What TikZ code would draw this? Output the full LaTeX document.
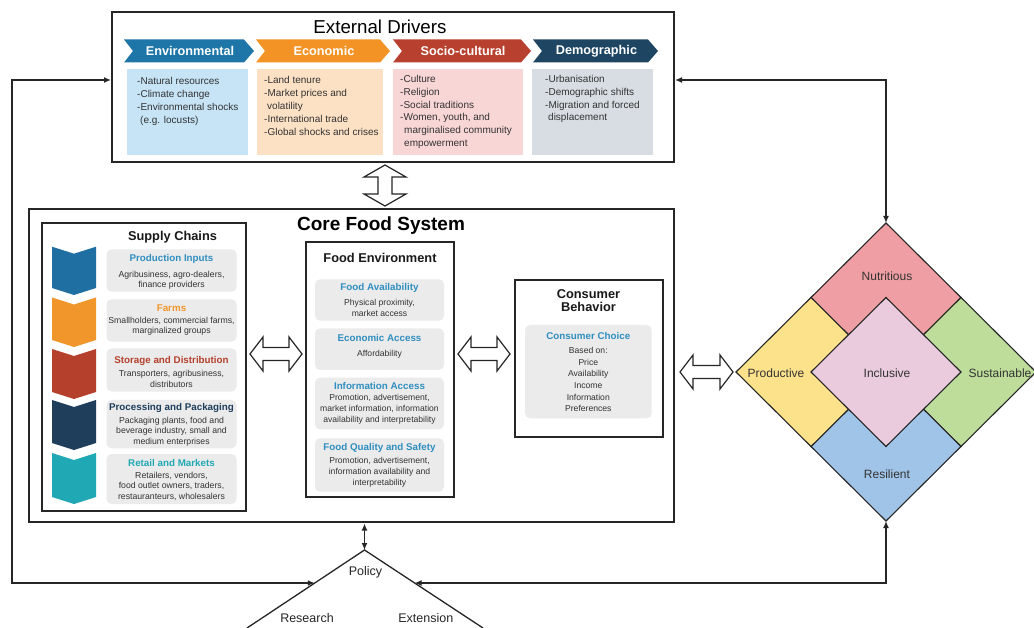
\documentclass[tikz,border=0pt]{standalone}
\usepackage{fontspec}
\setmainfont{Liberation Sans}
\usetikzlibrary{arrows.meta}
\definecolor{envH}{HTML}{1E76A8}
\definecolor{ecoH}{HTML}{F39325}
\definecolor{socH}{HTML}{B8402E}
\definecolor{demH}{HTML}{1E4662}
\definecolor{envB}{HTML}{C6E4F6}
\definecolor{ecoB}{HTML}{FDE1C5}
\definecolor{socB}{HTML}{F9D6D6}
\definecolor{demB}{HTML}{D7DDE3}
\definecolor{itemgrey}{HTML}{EBEBEB}
\definecolor{hdrblue}{HTML}{2F8EC0}
\definecolor{chBlue}{HTML}{1F6FA3}
\definecolor{chOrange}{HTML}{F0962A}
\definecolor{chRed}{HTML}{B5402C}
\definecolor{chNavy}{HTML}{1E3E5C}
\definecolor{chTeal}{HTML}{20A8B4}
\definecolor{txt}{HTML}{333333}
\definecolor{dNut}{HTML}{EF9FA3}
\definecolor{dPro}{HTML}{FDE28C}
\definecolor{dSus}{HTML}{BEDD9A}
\definecolor{dRes}{HTML}{A0C4E8}
\definecolor{dInc}{HTML}{E9CBDD}
\newcommand\extchev[5]{%
  \fill[#3] (#1,39.5) -- (#2-10,39.5) -- (#2,51) -- (#2-10,62.5) -- (#1,62.5) -- (#1+9,51) -- cycle;
  \node[hdr] (#4) at ({(#1+#2)/2+1},51) {#5};}
\newcommand\scchev[3]{%
  \fill[#3] (52,#1) -- (74,#1+7) -- (96,#1) -- (96,#2-7) -- (74,#2) -- (52,#2-7) -- cycle;}
\newcommand\hollowH[3]{%
  \draw[hollow] (#1,#3) -- (#1+13,#3-17) -- (#1+13,#3-6.5) -- (#2-13,#3-6.5) -- (#2-13,#3-17) -- (#2,#3)
    -- (#2-13,#3+17) -- (#2-13,#3+6.5) -- (#1+13,#3+6.5) -- (#1+13,#3+17) -- cycle;}
\begin{document}
\begin{tikzpicture}[x=1pt,y=-1pt,
  >={Latex[length=7pt,width=6pt]},
  panel/.style={draw=black!85, line width=1.3pt, fill=white, anchor=north west, inner sep=0pt, outer sep=0pt},
  cbox/.style={anchor=north west, inner sep=0pt, outer sep=0pt},
  item/.style={fill=itemgrey, rounded corners=5pt, anchor=north west, inner sep=0pt, outer sep=0pt},
  drvtxt/.style={font=\fontsize{10}{12.9}\selectfont, align=left, anchor=north west, inner sep=0pt, text=txt},
  hdr/.style={font=\fontsize{12.7}{14}\selectfont\bfseries, text=white, inner sep=0pt},
  ptitle/.style={font=\fontsize{12.8}{13.3}\selectfont\bfseries, inner sep=0pt, align=center, text=black!90},
  ihead/.style={font=\fontsize{9.8}{11}\selectfont\bfseries, inner sep=0pt, anchor=base},
  ibody/.style={font=\fontsize{8.7}{10.6}\selectfont, inner sep=0pt, anchor=north, align=center, text=txt},
  fbody/.style={font=\fontsize{8.6}{11.2}\selectfont, inner sep=0pt, anchor=north, align=center, text=txt},
  hollow/.style={draw=black!85, line width=1.2pt, fill=white, line join=miter},
  conn/.style={draw=black!85, line width=1.4pt, <->},
  dia/.style={draw=black!85, line width=1.1pt, line join=miter},
  dlabel/.style={font=\fontsize{12}{14}\selectfont, text=black!80, inner sep=0pt},
  plabel/.style={font=\fontsize{12.5}{14}\selectfont, text=black!85, inner sep=0pt}]
\useasboundingbox[fill=white] (0,0) rectangle (1034,628);

% ---------- External drivers ----------
\node[panel, line width=1.5pt, minimum width=562pt, minimum height=150pt] (ext) at (112,12) {};
\node[font=\fontsize{18.7}{20}\selectfont, inner sep=0pt] (extT) at (380,27) {External Drivers};
\extchev{124}{254}{envH}{envHd}{Environmental}
\extchev{256}{390}{ecoH}{ecoHd}{Economic}
\extchev{393}{531}{socH}{socHd}{Socio-cultural}
\extchev{533}{658}{demH}{demHd}{Demographic}
\node[cbox, fill=envB, minimum width=121pt, minimum height=86pt] (envBx) at (127,69.3) {};
\node[cbox, fill=ecoB, minimum width=126pt, minimum height=86pt] (ecoBx) at (257,69.3) {};
\node[cbox, fill=socB, minimum width=130pt, minimum height=86pt] (socBx) at (393.3,69.3) {};
\node[cbox, fill=demB, minimum width=120.5pt, minimum height=86pt] (demBx) at (532.3,69.3) {};
\node[drvtxt] (envTx) at (137,77.2) {-Natural resources\\-Climate change\\-Environmental shocks\\\hspace*{3pt}(e.g. locusts)};
\node[drvtxt] (ecoTx) at (264,76.5) {-Land tenure\\-Market prices and\\\hspace*{3pt}volatility\\-International trade\\-Global shocks and crises};
\node[drvtxt] (socTx) at (400,74.8) {-Culture\\-Religion\\-Social traditions\\-Women, youth, and\\\hspace*{4pt}marginalised community\\\hspace*{4pt}empowerment};
\node[drvtxt] (demTx) at (545,74.8) {-Urbanisation\\-Demographic shifts\\-Migration and forced\\\hspace*{3pt}displacement};

% vertical hollow double arrow
\draw[hollow] (385,165) -- (406,177) -- (392,177) -- (392,194) -- (406,194) -- (385,206)
  -- (364,194) -- (378,194) -- (378,177) -- (364,177) -- cycle;

% ---------- Core food system ----------
\node[panel, minimum width=645pt, minimum height=313pt] (core) at (29,209) {};
\node[font=\fontsize{19}{21}\selectfont\bfseries, inner sep=0pt] (coreT) at (381,226) {Core Food System};

% Supply chains
\node[panel, minimum width=204pt, minimum height=288pt] (sc) at (42,223) {};
\node[ptitle] (scT) at (172.5,237.5) {Supply Chains};
\scchev{246.7}{295}{chBlue}
\scchev{297.5}{347}{chOrange}
\scchev{349}{399}{chRed}
\scchev{400}{450}{chNavy}
\scchev{453}{504}{chTeal}
\node[item, minimum width=130pt, minimum height=42.4pt] (sc1) at (106.5,249.3) {};
\node[item, minimum width=130pt, minimum height=42.4pt] (sc2) at (106.5,299.3) {};
\node[item, minimum width=130pt, minimum height=43.2pt] (sc3) at (106.5,348.5) {};
\node[item, minimum width=130pt, minimum height=48.3pt] (sc4) at (106.5,400) {};
\node[item, minimum width=130pt, minimum height=50pt] (sc5) at (106.5,454) {};
\node[ihead, text=hdrblue] (sc1h) at (171.5,261.8) {Production Inputs};
\node[ibody] (sc1b) at (171.5,270.8) {Agribusiness, agro-dealers,\\finance providers};
\node[ihead, text=chOrange] (sc2h) at (171.5,311.8) {Farms};
\node[ibody] (sc2b) at (171.5,316.8) {Smallholders, commercial farms,\\marginalized groups};
\node[ihead, text=chRed] (sc3h) at (171.5,363.5) {Storage and Distribution};
\node[ibody] (sc3b) at (171.5,370.1) {Transporters, agribusiness,\\distributors};
\node[ihead, text=chNavy] (sc4h) at (171.5,410.8) {Processing and Packaging};
\node[ibody] (sc4b) at (171.5,416.8) {Packaging plants, food and\\beverage industry, small and\\medium enterprises};
\node[ihead, text=chTeal] (sc5h) at (171.5,466.2) {Retail and Markets};
\node[ibody] (sc5b) at (171.5,471.8) {Retailers, vendors,\\food outlet owners, traders,\\restauranteurs, wholesalers};

% Food environment
\node[panel, minimum width=148pt, minimum height=255pt] (fe) at (306,242) {};
\node[ptitle] (feT) at (380,258) {Food Environment};
\node[item, minimum width=129pt, minimum height=41.4pt] (fe1) at (315,279.3) {};
\node[item, minimum width=129pt, minimum height=41.7pt] (fe2) at (315,328.3) {};
\node[item, minimum width=129pt, minimum height=51.6pt] (fe3) at (315,377.7) {};
\node[item, minimum width=129pt, minimum height=53.4pt] (fe4) at (315,438.3) {};
\node[ihead, text=hdrblue] (fe1h) at (379.5,290.8) {Food Availability};
\node[fbody] (fe1b) at (379.5,298.7) {Physical proximity,\\market access};
\node[ihead, text=hdrblue] (fe2h) at (379.5,341.2) {Economic Access};
\node[fbody] (fe2b) at (379.5,350.3) {Affordability};
\node[ihead, text=hdrblue] (fe3h) at (379.5,389.2) {Information Access};
\node[fbody] (fe3b) at (379.5,393.7) {Promotion, advertisement,\\market information, information\\availability and interpretability};
\node[ihead, text=hdrblue] (fe4h) at (379.5,450.8) {Food Quality and Safety};
\node[fbody] (fe4b) at (379.5,457) {Promotion, advertisement,\\information availability and\\interpretability};

% Consumer behavior
\node[panel, minimum width=148pt, minimum height=157pt] (cb) at (515,280) {};
\node[ptitle, anchor=north] (cbT) at (588.5,289.4) {Consumer\\Behavior};
\node[item, minimum width=126.7pt, minimum height=93.3pt] (cb1) at (525,325) {};
\node[ihead, text=hdrblue] (cb1h) at (588.3,339.2) {Consumer Choice};
\node[fbody, font=\fontsize{8.6}{11.65}\selectfont] (cb1b) at (588.3,347) {Based on:\\Price\\Availability\\Income\\Information\\Preferences};

% horizontal hollow double arrows
\hollowH{250}{302}{354}
\hollowH{458}{510}{354}
\hollowH{680}{733}{372}

% ---------- Diamond ----------
\begin{scope}[shift={(886,372)}]
  \draw[dia, fill=dNut] (0,-149) -- (75,-74.5) -- (0,0) -- (-75,-74.5) -- cycle;
  \draw[dia, fill=dSus] (75,-74.5) -- (150,0) -- (75,74.5) -- (0,0) -- cycle;
  \draw[dia, fill=dRes] (0,0) -- (75,74.5) -- (0,149) -- (-75,74.5) -- cycle;
  \draw[dia, fill=dPro] (-75,-74.5) -- (0,0) -- (-75,74.5) -- (-150,0) -- cycle;
  \draw[dia, fill=dInc] (0,-74.5) -- (75,0) -- (0,74.5) -- (-75,0) -- cycle;
  \coordinate (dtop) at (0,-149);
  \coordinate (dbot) at (0,149);
\end{scope}
\node[dlabel] (nut) at (887,276) {Nutritious};
\node[dlabel] (pro) at (776,373) {Productive};
\node[dlabel] (inc) at (887,373) {Inclusive};
\node[dlabel] (sus) at (1000,373) {Sustainable};
\node[dlabel] (res) at (887,474.5) {Resilient};

% ---------- Policy triangle ----------
\coordinate (apex) at (364.5,550);
\coordinate (polL) at (314.8,583);
\coordinate (polR) at (414.6,583);
\draw[draw=black!85, line width=1.3pt, line join=miter] (247,628) -- (apex) -- (483,628);
\node[plabel] (pol) at (365.5,572) {Policy};
\node[plabel] (rsc) at (307,618.3) {Research};
\node[plabel] (extn) at (425.8,618.3) {Extension};

% ---------- connectors ----------
\coordinate (extL) at (111,80);
\coordinate (extR) at (675,80);
\coordinate (coreB) at (364.5,523.5);
\draw[conn] (extL) -- (12,80) -- (12,583) -- (polL);
\draw[conn] (extR) -- (886,80) -- (dtop);
\draw[conn] (dbot) -- (886,583) -- (polR);
\draw[conn] (coreB) -- (apex);
\end{tikzpicture}
\end{document}
